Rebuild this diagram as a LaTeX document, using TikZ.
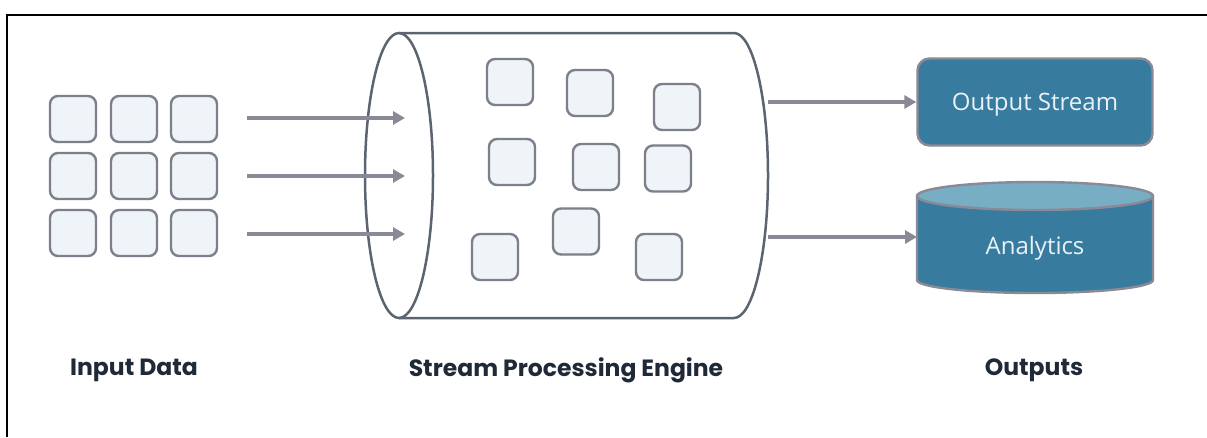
\documentclass[tikz,border=0pt]{standalone}
\usepackage{fontspec}
\setmainfont{Open Sans}
\newfontfamily\headfont{Poppins}
\usetikzlibrary{arrows.meta}
\definecolor{tilefill}{HTML}{EFF4F8}
\definecolor{tileline}{HTML}{7D7F8A}
\definecolor{flow}{HTML}{8A8996}
\definecolor{pipe}{HTML}{5B6470}
\definecolor{teal}{HTML}{377B9E}
\definecolor{tealtop}{HTML}{77AEC3}
\definecolor{ink}{HTML}{1F2937}
\definecolor{paleink}{HTML}{EAF2F7}
\tikzset{
  tile/.style={draw=tileline, fill=tilefill, line width=2.4pt, rounded corners=8pt,
    minimum width=46pt, minimum height=46pt, inner sep=0pt},
  flowarrow/.style={draw=flow, line width=3.8pt,
    -{Triangle[length=12pt,width=13pt]}},
  heading/.style={font=\headfont\bfseries\fontsize{23.5}{28}\selectfont, text=ink},
  outtext/.style={font=\fontsize{24}{28}\selectfont, text=paleink}
}
\begin{document}
\begin{tikzpicture}[x=1pt, y=-1pt]
  \useasboundingbox (0,0) rectangle (1207,437);
  \fill[white] (0,0) rectangle (1207,437);
  % frame lines
  \draw[black, line width=2pt] (7,437) -- (7,15) -- (1207,15);

  % input tiles
  \foreach \c/\x in {1/73,2/134,3/194}{
    \foreach \r/\y in {1/119,2/176,3/233}{
      \node[tile] (in\r\c) at (\x,\y) {};
    }
  }

  % processing engine cylinder
  \draw[pipe, line width=2.5pt, fill=white]
    (399,33) -- (734,33)
    arc[start angle=90, end angle=-90, x radius=34pt, y radius=142.5pt]
    -- (399,318);
  \draw[pipe, line width=2.5pt] (399,175.5) ellipse[x radius=34pt, y radius=142.5pt];

  % events inside the engine
  \node[tile] (p1) at (510,82) {};
  \node[tile] (p2) at (590,93) {};
  \node[tile] (p3) at (677,107) {};
  \node[tile] (p4) at (512,162) {};
  \node[tile] (p5) at (596,167) {};
  \node[tile] (p6) at (668,168.5) {};
  \node[tile] (p7) at (576,231.5) {};
  \node[tile] (p8) at (495,257) {};
  \node[tile] (p9) at (659,257) {};

  % entry points of the inbound streams
  \coordinate (e1) at (405,118);
  \coordinate (e2) at (405,176);
  \coordinate (e3) at (405,234);
  \coordinate (s1) at (247,118);
  \coordinate (s2) at (247,176);
  \coordinate (s3) at (247,234);
  \foreach \i in {1,2,3}{ \draw[flowarrow] (s\i) -- (e\i); }

  % outputs
  \node[draw=flow, fill=teal, line width=2.4pt, rounded corners=12pt,
        minimum width=235pt, minimum height=87pt, inner sep=0pt]
        (ostream) at (1035,102) {};
  \node[outtext] (ostext) at (1035,105) {Output Stream};

  \fill[teal] (917,196) -- (917,280)
    arc[start angle=180, end angle=360, x radius=118pt, y radius=13pt]
    -- (1153,196) -- cycle;
  \draw[flow, line width=2.4pt] (917,196) -- (917,280)
    arc[start angle=180, end angle=360, x radius=118pt, y radius=13pt]
    -- (1153,196);
  \draw[flow, line width=2.4pt, fill=tealtop] (1035,196) ellipse[x radius=118pt, y radius=14pt];
  \node[outtext] (analytics) at (1035,248) {Analytics};
  \coordinate (dbin) at (917,237);

  \coordinate (o1) at (768,102);
  \coordinate (o2) at (768,237);
  \draw[flowarrow] (o1) -- (ostream.west);
  \draw[flowarrow] (o2) -- (dbin);

  % section headings
  \node[heading] (hin) at (134,370) {Input Data};
  \node[heading] (hproc) at (566,370) {Stream Processing Engine};
  \node[heading] (hout) at (1034,370) {Outputs};
\end{tikzpicture}
\end{document}
